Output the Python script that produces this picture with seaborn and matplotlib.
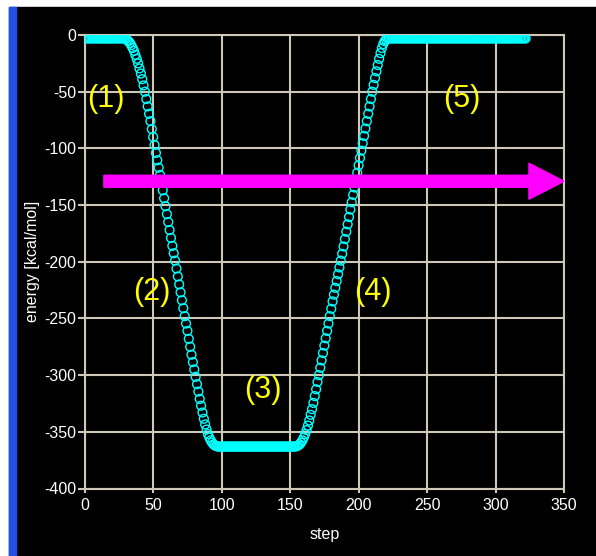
import matplotlib
matplotlib.use("Agg")
import matplotlib.pyplot as plt
import seaborn as sns
import numpy as np
from matplotlib.patches import Rectangle

# energy per step in segments
flat_start = [-3.0] * 29      # steps 0-28
descent = [-3, -3.5, -4.5, -5.5, -7, -9, -11.5, -14, -17.5, -21,
           -25, -29.5, -34, -39, -44.5, -50, -56.5, -63, -69.5, -76,
           -83, -90, -97, -104, -110.5, -117, -123.5, -130, -137, -144,
           -151, -158, -165, -172, -179, -186, -192.5, -199, -206, -213,
           -220, -227, -234, -241, -248, -254.5, -261, -268, -275, -282,
           -288.5, -295, -301.5, -308, -314.5, -321, -327, -333, -338.5, -343.5,
           -348, -352, -355, -357.5, -359.5, -361, -362, -362.5, -363, -363,
           -363]                # steps 29-99
bottom = [-363.0] * 54        # steps 100-153
ascent = [-363, -362.5, -362, -361, -359.5, -357.5, -355, -352, -348.5, -344.5,
          -340, -335, -330, -324.5, -318.5, -312.5, -306, -300, -293.5, -287,
          -280.5, -274, -267.5, -261, -254.5, -248, -241.5, -235, -229, -223,
          -217, -211, -205, -199, -193, -186.5, -180, -173.5, -167, -160.5,
          -154, -147.5, -141, -134.5, -128, -121.5, -115, -108.5, -102, -95.5,
          -89, -82.5, -76, -69.5, -63, -56.5, -50, -44, -38, -32,
          -26.5, -21, -16, -11.5, -8, -5.5, -4, -3]   # steps 154-221
flat_end = [-3.0] * 101       # steps 222-322

energy = np.array(flat_start + descent + bottom + ascent + flat_end, dtype=float)
steps = np.arange(len(energy))

xticks = [0, 50, 100, 150, 200, 250, 300, 350]
yticks = [-400, -350, -300, -250, -200, -150, -100, -50, 0]

# stage labels
stage_text = ["(1)", "(2)", "(3)", "(4)", "(5)"]
stage_x = [15.6, 49, 130, 210.5, 275.7]
stage_y = [-56.5, -227, -313, -227, -56.5]

# direction arrow
arrow_x0, arrow_x1, arrow_y = 14, 350, -129

plt.rcParams["font.family"] = ["Liberation Sans", "DejaVu Sans"]
plt.rcParams["axes.unicode_minus"] = False

W, H = 596, 556
fig = plt.figure(figsize=(W / 100, H / 100), dpi=100, facecolor="white")
fig.add_artist(Rectangle((9 / W, 0), 1 - 9 / W, 549 / H, transform=fig.transFigure,
                         color="black", zorder=0))
fig.add_artist(Rectangle((9 / W, 0), 7 / W, 549 / H, transform=fig.transFigure,
                         color="#1f4fe6", zorder=1))

left, right, top, bot = 84.7, 564, 35, 488.5
ax = fig.add_axes([left / W, (H - bot) / H, (right - left) / W, (bot - top) / H])
ax.set_facecolor("black")

gridc = "#cfc8b8"
sns.scatterplot(x=steps, y=energy, ax=ax, marker="o", s=40, facecolors="none",
                edgecolor="#00ffff", linewidth=1.0, legend=False, zorder=3)

ax.set_xlim(0, 350)
ax.set_ylim(-400, 0)
ax.set_xticks(xticks)
ax.set_yticks(yticks)
ax.grid(True, color=gridc, lw=1.5)
ax.set_axisbelow(True)
for sp in ax.spines.values():
    sp.set_color(gridc)
    sp.set_linewidth(1.5)
ax.tick_params(axis="y", color=gridc, length=5, width=1.5, labelcolor="white",
               labelsize=11.5, pad=1)
ax.tick_params(axis="x", color=gridc, length=3, width=1.5, labelcolor="white",
               labelsize=11.5, pad=4)

ax.set_xlabel("step", color="white", fontsize=11.5)
ax.set_ylabel("energy [kcal/mol]", color="white", fontsize=11.5)
ax.xaxis.set_label_coords(0.5, (bot - 535) / (bot - top))
ax.yaxis.set_label_coords((32 - left) / (right - left), 0.5)
ax.xaxis.label.set_va("center")
ax.yaxis.label.set_va("center")

for t, x, y in zip(stage_text, stage_x, stage_y):
    ax.text(x, y, t, color="#ffff00", fontsize=22, ha="center", va="center", zorder=4)

ax.arrow(arrow_x0, arrow_y, arrow_x1 - arrow_x0, 0, width=10.6, head_width=31.8,
         head_length=25.6, length_includes_head=True, color="#ff00ff",
         clip_on=False, zorder=5)

fig.savefig("out.png", dpi=100, facecolor="white")
